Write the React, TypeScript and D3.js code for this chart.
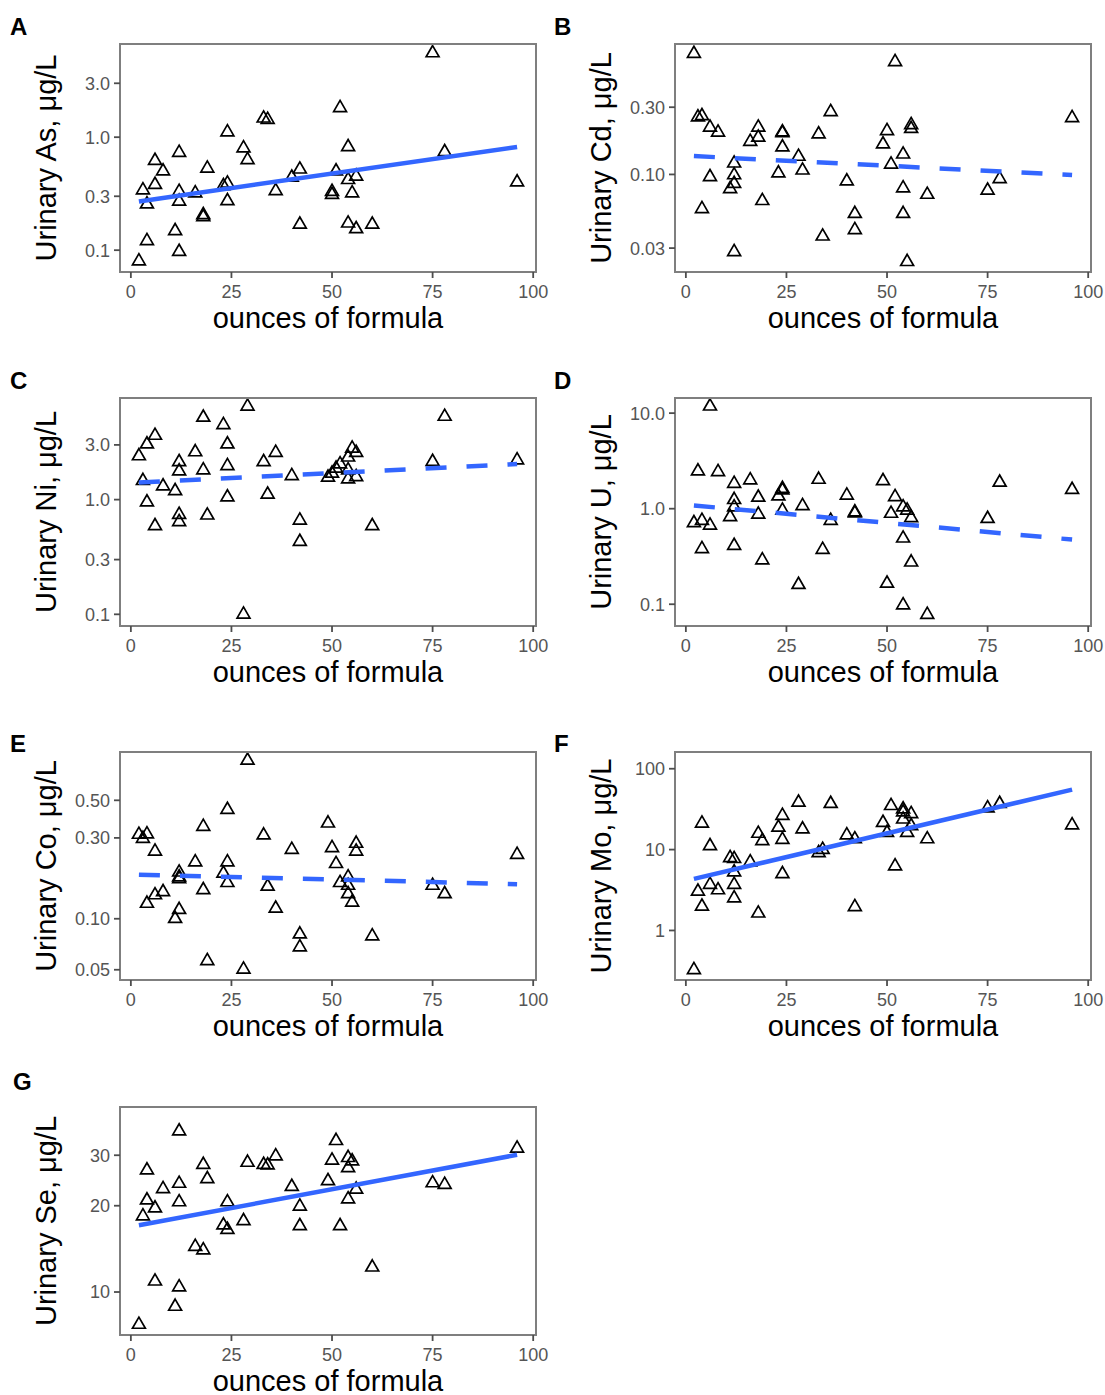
import React from "react";
import * as d3 from "d3";

// ---------- data (x = ounces of formula, y = urinary concentration) ----------
const asX = [75, 52, 33, 34, 24, 12, 28, 54, 78, 6, 29, 8, 19, 42, 40, 51, 54, 56, 6, 23, 24, 3, 12, 16, 36, 50, 50, 55, 96, 4, 12, 24, 18, 18, 42, 54, 56, 60, 11, 4, 12, 2];
const asY = [5.56, 1.82, 1.47, 1.43, 1.11, 0.73, 0.8, 0.82, 0.74, 0.62, 0.63, 0.5, 0.53, 0.52, 0.44, 0.5, 0.42, 0.45, 0.38, 0.37, 0.39, 0.34, 0.33, 0.32, 0.335, 0.31, 0.33, 0.32, 0.4, 0.255, 0.27, 0.273, 0.197, 0.205, 0.169, 0.173, 0.154, 0.169, 0.148, 0.121, 0.097, 0.08];
const asFit = [0.27, 0.82];

const cdX = [2, 52, 3, 4, 4, 6, 8, 6, 16, 18, 18, 19, 24, 24, 24, 23, 28, 29, 33, 36, 34, 40, 42, 42, 50, 49, 51, 54, 54, 54, 55, 56, 56, 60, 75, 78, 96, 12, 12, 12, 11, 12];
const cdY = [0.72, 0.63, 0.255, 0.26, 0.057, 0.216, 0.199, 0.096, 0.171, 0.216, 0.183, 0.065, 0.197, 0.2, 0.156, 0.102, 0.134, 0.107, 0.193, 0.278, 0.0364, 0.0896, 0.0526, 0.0404, 0.204, 0.164, 0.118, 0.139, 0.08, 0.0526, 0.024, 0.225, 0.211, 0.072, 0.077, 0.093, 0.252, 0.12, 0.099, 0.086, 0.079, 0.0282];
const cdFit = [0.135, 0.099];

const niX = [29, 18, 78, 23, 6, 4, 24, 2, 16, 36, 12, 12, 18, 24, 33, 3, 8, 11, 4, 24, 34, 40, 6, 12, 12, 19, 42, 42, 60, 28, 49, 50, 51, 52, 54, 55, 56, 54, 54, 56, 75, 96];
const niY = [6.5, 5.2, 5.3, 4.49, 3.62, 3.04, 3.04, 2.4, 2.6, 2.57, 2.13, 1.77, 1.81, 1.97, 2.13, 1.46, 1.31, 1.19, 0.95, 1.05, 1.11, 1.61, 0.59, 0.74, 0.64, 0.73, 0.66, 0.43, 0.59, 0.1, 1.56, 1.69, 1.87, 2.04, 2.34, 2.8, 2.57, 1.81, 1.51, 1.58, 2.14, 2.21];
const niFit = [1.41, 2.04];

const uX = [6, 3, 8, 12, 16, 33, 49, 78, 96, 12, 18, 23, 24, 24, 40, 52, 12, 24, 29, 42, 42, 51, 54, 55, 56, 2, 4, 6, 11, 18, 36, 75, 4, 12, 19, 34, 54, 56, 28, 50, 54, 60];
const uY = [11.8, 2.47, 2.43, 1.83, 1.99, 2.02, 1.95, 1.88, 1.58, 1.24, 1.31, 1.35, 1.62, 1.56, 1.38, 1.33, 1.04, 0.96, 1.07, 0.92, 0.9, 0.89, 1.04, 0.96, 0.8, 0.71, 0.75, 0.67, 0.82, 0.87, 0.75, 0.785, 0.38, 0.41, 0.29, 0.373, 0.49, 0.275, 0.16, 0.165, 0.098, 0.078];
const uFit = [1.08, 0.475];

const coX = [29, 24, 49, 18, 2, 4, 3, 33, 6, 40, 50, 56, 56, 96, 16, 24, 51, 12, 12, 12, 23, 24, 18, 34, 52, 54, 54, 54, 55, 75, 78, 4, 6, 8, 12, 11, 36, 42, 42, 60, 19, 28];
const coY = [0.86, 0.44, 0.366, 0.35, 0.314, 0.316, 0.297, 0.311, 0.25, 0.256, 0.262, 0.278, 0.25, 0.239, 0.216, 0.216, 0.211, 0.188, 0.176, 0.172, 0.185, 0.163, 0.148, 0.155, 0.163, 0.176, 0.157, 0.14, 0.125, 0.157, 0.14, 0.123, 0.138, 0.144, 0.113, 0.1, 0.115, 0.081, 0.068, 0.079, 0.0564, 0.0503];
const coFit = [0.182, 0.16];

const moX = [2, 4, 3, 6, 8, 4, 6, 11, 12, 12, 12, 12, 16, 18, 18, 19, 23, 24, 24, 24, 28, 29, 33, 34, 36, 40, 42, 42, 49, 50, 51, 52, 54, 54, 54, 56, 55, 56, 60, 75, 78, 96];
const moY = [0.326, 1.98, 3.04, 3.69, 3.16, 21.1, 11.1, 7.9, 7.7, 5.26, 3.69, 2.51, 7.0, 1.63, 15.8, 12.8, 18.8, 26.3, 13.3, 5.0, 38.3, 17.9, 9.1, 10, 36.9, 15.1, 13.5, 1.96, 21.5, 16.2, 34.8, 6.25, 31.6, 29, 23.7, 27.7, 16.2, 19.6, 13.5, 32.6, 36.9, 20.1];
const moFit = [4.34, 55.2];

const seX = [12, 51, 96, 36, 54, 50, 55, 29, 33, 34, 18, 54, 4, 19, 49, 12, 75, 78, 40, 8, 56, 4, 54, 12, 24, 6, 42, 3, 28, 23, 24, 42, 52, 16, 18, 60, 6, 12, 11, 2];
const seY = [36.4, 33.7, 31.7, 29.8, 29.4, 28.8, 28.6, 28.3, 27.8, 27.7, 27.8, 27.1, 26.6, 24.8, 24.4, 23.9, 24.0, 23.7, 23.3, 22.9, 22.8, 20.9, 21.1, 20.6, 20.6, 19.6, 19.9, 18.4, 17.7, 17.1, 16.5, 17.0, 17.0, 14.4, 14.0, 12.2, 10.9, 10.4, 8.9, 7.7];
const seFit = [17.1, 30.1];

// y tick values / labels per panel
const asTicks = [0.1, 0.3, 1, 3];
const asTickLabels = ["0.1", "0.3", "1.0", "3.0"];
const cdTicks = [0.03, 0.1, 0.3];
const cdTickLabels = ["0.03", "0.10", "0.30"];
const niTicks = [0.1, 0.3, 1, 3];
const niTickLabels = ["0.1", "0.3", "1.0", "3.0"];
const uTicks = [0.1, 1, 10];
const uTickLabels = ["0.1", "1.0", "10.0"];
const coTicks = [0.05, 0.1, 0.3, 0.5];
const coTickLabels = ["0.05", "0.10", "0.30", "0.50"];
const moTicks = [1, 10, 100];
const moTickLabels = ["1", "10", "100"];
const seTicks = [10, 20, 30];
const seTickLabels = ["10", "20", "30"];

// y ranges shown (bottom, top) of each panel
const asDomain = [0.0641, 6.68];
const cdDomain = [0.0203, 0.843];
const niDomain = [0.0791, 7.69];
const uDomain = [0.0592, 14.4];
const coDomain = [0.0435, 0.964];
const moDomain = [0.244, 161];
const seDomain = [7.08, 44.2];

const xTicks = [0, 25, 50, 75, 100];
const xTitle = "ounces of formula";

// ---------- layout ----------
const COL_LEFT = [120, 675];
const ROW_TOP = [44, 398, 752, 1107];
const LETTER_BASE = [35, 389, 752, 1090];
const BOX_W = 416;
const BOX_H = 228;
const FONT = "'Liberation Sans', Arial, Helvetica, sans-serif";

const panels = [
  { letter: "A", name: "As", xs: asX, ys: asY, fit: asFit, dashed: false, ticks: asTicks, labels: asTickLabels, domain: asDomain, col: 0, row: 0, lx: 10 },
  { letter: "B", name: "Cd", xs: cdX, ys: cdY, fit: cdFit, dashed: true, ticks: cdTicks, labels: cdTickLabels, domain: cdDomain, col: 1, row: 0, lx: 554 },
  { letter: "C", name: "Ni", xs: niX, ys: niY, fit: niFit, dashed: true, ticks: niTicks, labels: niTickLabels, domain: niDomain, col: 0, row: 1, lx: 10 },
  { letter: "D", name: "U", xs: uX, ys: uY, fit: uFit, dashed: true, ticks: uTicks, labels: uTickLabels, domain: uDomain, col: 1, row: 1, lx: 554 },
  { letter: "E", name: "Co", xs: coX, ys: coY, fit: coFit, dashed: true, ticks: coTicks, labels: coTickLabels, domain: coDomain, col: 0, row: 2, lx: 10 },
  { letter: "F", name: "Mo", xs: moX, ys: moY, fit: moFit, dashed: false, ticks: moTicks, labels: moTickLabels, domain: moDomain, col: 1, row: 2, lx: 554 },
  { letter: "G", name: "Se", xs: seX, ys: seY, fit: seFit, dashed: false, ticks: seTicks, labels: seTickLabels, domain: seDomain, col: 0, row: 3, lx: 13 },
];

const tri = d3.symbol().type(d3.symbolTriangle).size(72)();

function Panel({ p }: { p: any }) {
  const left = COL_LEFT[p.col];
  const top = ROW_TOP[p.row];
  const xmin = d3.min(p.xs as number[]) as number;
  const xmax = d3.max(p.xs as number[]) as number;
  const pad = (xmax - xmin) * 0.05;
  const x = d3.scaleLinear().domain([xmin - pad, xmax + pad]).range([left, left + BOX_W]);
  const y = d3.scaleLog().domain(p.domain).range([top + BOX_H, top]);
  const lineGen = d3.line<[number, number]>().x((d) => x(d[0])).y((d) => y(d[1]));
  const fitPts: [number, number][] = [
    [xmin, p.fit[0]],
    [xmax, p.fit[1]],
  ];
  const bottom = top + BOX_H;
  return (
    <g>
      <text x={p.lx} y={LETTER_BASE[p.row]} fontFamily={FONT} fontWeight="bold" fontSize={24} fill="#000">
        {p.letter}
      </text>
      {p.xs.map((xv: number, i: number) => (
        <path key={i} d={tri} transform={`translate(${x(xv)},${y(p.ys[i])})`} fill="none" stroke="#000" strokeWidth={1.7} />
      ))}
      <path
        d={lineGen(fitPts) as string}
        fill="none"
        stroke="#3366FF"
        strokeWidth={4.5}
        strokeDasharray={p.dashed ? "21,20" : undefined}
      />
      <rect x={left} y={top} width={BOX_W} height={BOX_H} fill="none" stroke="#7f7f7f" strokeWidth={2} />
      {p.ticks.map((t: number, i: number) => (
        <g key={"yt" + i}>
          <line x1={left - 6} x2={left} y1={y(t)} y2={y(t)} stroke="#4d4d4d" strokeWidth={1.8} />
          <text x={left - 10} y={y(t)} dy="0.36em" textAnchor="end" fontFamily={FONT} fontSize={18} fill="#555">
            {p.labels[i]}
          </text>
        </g>
      ))}
      {xTicks.map((t) => (
        <g key={"xt" + t}>
          <line x1={x(t)} x2={x(t)} y1={bottom} y2={bottom + 6} stroke="#4d4d4d" strokeWidth={1.8} />
          <text x={x(t)} y={bottom + 26} textAnchor="middle" fontFamily={FONT} fontSize={18} fill="#555">
            {t}
          </text>
        </g>
      ))}
      <text x={left + BOX_W / 2} y={bottom + 56} textAnchor="middle" fontFamily={FONT} fontSize={29} fill="#000">
        {xTitle}
      </text>
      <text
        transform={`translate(${left - 64},${top + BOX_H / 2}) rotate(-90)`}
        textAnchor="middle"
        fontFamily={FONT}
        fontSize={29}
        fill="#000"
      >
        {`Urinary ${p.name}, μg/L`}
      </text>
    </g>
  );
}

export default function App() {
  return (
    <svg width={1105} height={1395} style={{ position: "absolute", left: 0, top: 0, background: "#fff" }}>
      <rect x={0} y={0} width={1105} height={1395} fill="#fff" />
      {panels.map((p) => (
        <Panel key={p.letter} p={p} />
      ))}
    </svg>
  );
}
